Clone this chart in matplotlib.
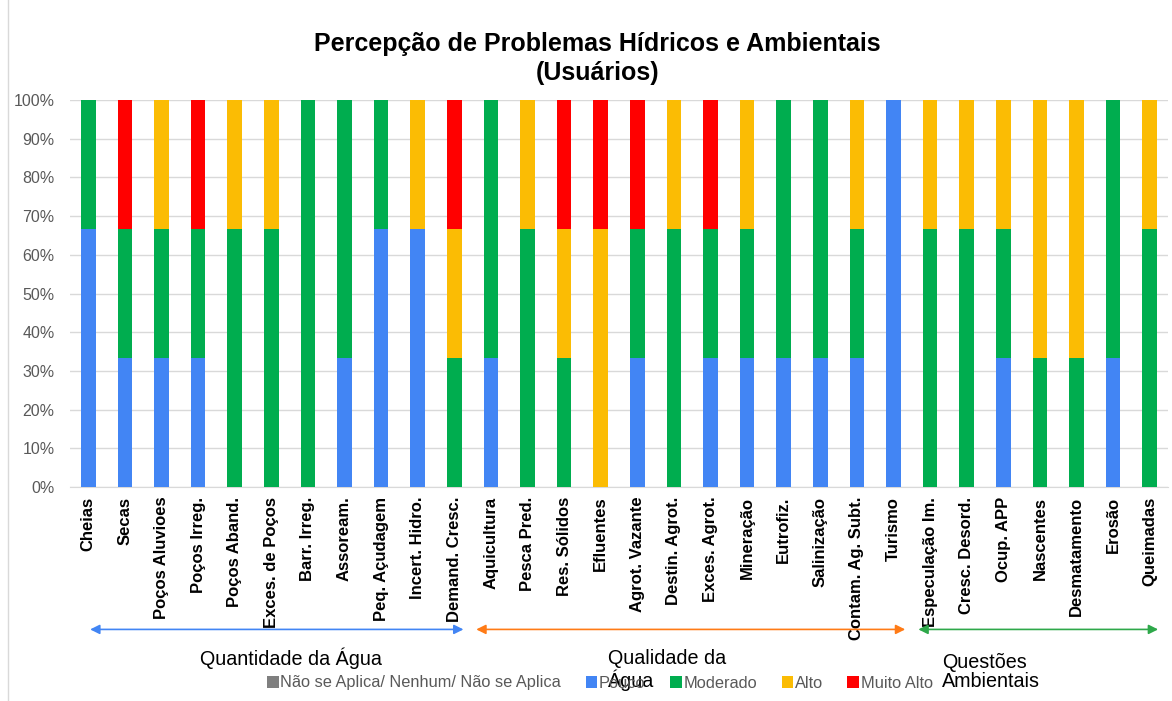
import numpy as np
import matplotlib.pyplot as plt
from matplotlib.patches import Patch
from matplotlib.lines import Line2D

plt.rcParams['font.family'] = ['Liberation Sans', 'DejaVu Sans']

# problem categories (three user answers per item)
categorias = [
    "Cheias", "Secas", "Poços Aluvioes", "Poços Irreg.", "Poços Aband.",
    "Exces. de Poços", "Barr. Irreg.", "Assoream.", "Peq. Açudagem",
    "Incert. Hidro.", "Demand. Cresc.",
    "Aquicultura", "Pesca Pred.", "Res. Sólidos", "Efluentes",
    "Agrot. Vazante", "Destin. Agrot.", "Exces. Agrot.", "Mineração",
    "Eutrofiz.", "Salinização", "Contam. Ag. Subt.", "Turismo",
    "Especulação Im.", "Cresc. Desord.", "Ocup. APP", "Nascentes",
    "Desmatamento", "Erosão", "Queimadas",
]

# number of answers per level
nao_aplica = [0, 0, 0, 0, 0, 0, 0, 0, 0, 0, 0,
              0, 0, 0, 0, 0, 0, 0, 0, 0, 0, 0, 0,
              0, 0, 0, 0, 0, 0, 0]
pouco      = [2, 1, 1, 1, 0, 0, 0, 1, 2, 2, 0,
              1, 0, 0, 0, 1, 0, 1, 1, 1, 1, 1, 3,
              0, 0, 1, 0, 0, 1, 0]
moderado   = [1, 1, 1, 1, 2, 2, 3, 2, 1, 0, 1,
              2, 2, 1, 0, 1, 2, 1, 1, 2, 2, 1, 0,
              2, 2, 1, 1, 1, 2, 2]
alto       = [0, 0, 1, 0, 1, 1, 0, 0, 0, 1, 1,
              0, 1, 1, 2, 0, 1, 0, 1, 0, 0, 1, 0,
              1, 1, 1, 2, 2, 0, 1]
muito_alto = [0, 1, 0, 1, 0, 0, 0, 0, 0, 0, 1,
              0, 0, 1, 1, 1, 0, 1, 0, 0, 0, 0, 0,
              0, 0, 0, 0, 0, 0, 0]

niveis = ["Não se Aplica/ Nenhum/ Não se Aplica", "Pouco", "Moderado", "Alto", "Muito Alto"]
cores = ["#7F7F7F", "#4285F4", "#00AD4F", "#FBBC04", "#FF0000"]

# thematic groups: (label, arrow start, arrow end, colour)
grupos = [
    ("Quantidade da Água", 0.05, 10.25, "#4285F4"),
    ("Qualidade da\nÁgua", 10.6, 22.32, "#FF7B16"),
    ("Questões\nAmbientais", 22.68, 29.23, "#2EA84A"),
]

contagens = np.array([nao_aplica, pouco, moderado, alto, muito_alto], dtype=float)
percent = contagens / contagens.sum(axis=0) * 100
x = np.arange(len(categorias))

fig = plt.figure(figsize=(11.72, 7.01), dpi=100)
ax = fig.add_axes([70 / 1172, 1 - 487 / 701, 1098 / 1172, 387 / 701])

base = np.zeros(len(categorias))
for vals, nome, cor in zip(percent, niveis, cores):
    ax.bar(x, vals, bottom=base, width=0.4, color=cor, label=nome, zorder=3)
    base += vals

ax.set_xlim(-0.5, len(categorias) - 0.5)
ax.set_ylim(0, 100)
ax.set_yticks(np.arange(0, 101, 10))
ax.set_yticklabels([f"{v}%" for v in range(0, 101, 10)], fontsize=11.5, color="#595959")
ax.yaxis.grid(True, color="#D9D9D9", linewidth=1, zorder=0)
for s in ["top", "right", "left"]:
    ax.spines[s].set_visible(False)
ax.spines["bottom"].set_color("#D9D9D9")
ax.tick_params(axis="both", length=0)
ax.tick_params(axis="y", pad=11)

ax.set_xticks(x)
ax.set_xticklabels(categorias, rotation=90, fontsize=12, fontweight="bold", va="top")
ax.tick_params(axis="x", pad=7)

fig.text(0.51, 1 - 44 / 701, "Percepção de Problemas Hídricos e Ambientais",
         ha="center", va="center", fontsize=18, fontweight="bold")
fig.text(0.51, 1 - 73 / 701, "(Usuários)",
         ha="center", va="center", fontsize=18, fontweight="bold")

# group arrows and captions below the category labels
y_seta = -36.8
for nome, a0, a1, cor in grupos:
    ax.annotate("", xy=(a0, y_seta), xytext=(a1, y_seta),
                xycoords="data", annotation_clip=False,
                arrowprops=dict(arrowstyle="<|-|>", color=cor, lw=1.2,
                                mutation_scale=14, shrinkA=0, shrinkB=0))
ax.text(5.55, -44.3, grupos[0][0], ha="center", va="center", fontsize=14.2, clip_on=False)
ax.text(14.2, -47.3, grupos[1][0], ha="left", va="center", fontsize=14.2,
        linespacing=1.05, clip_on=False)
ax.text(23.33, -47.8, grupos[2][0], ha="left", va="center", fontsize=14.2,
        linespacing=1.05, clip_on=False)

# vertical frame line on the left of the chart area
fig.add_artist(Line2D([8 / 1172, 8 / 1172], [0, 1], color="#D9D9D9", lw=1))

handles = [Patch(facecolor=c, edgecolor="none") for c in cores]
leg = fig.legend(handles, niveis, loc="center", bbox_to_anchor=(600 / 1172, 1 - 683 / 701),
                 ncol=5, frameon=False, fontsize=11.8, handlelength=0.7, handleheight=0.7,
                 handletextpad=0.1, columnspacing=1.5)
for t in leg.get_texts():
    t.set_color("#595959")

fig.savefig("out.png", dpi=100)
